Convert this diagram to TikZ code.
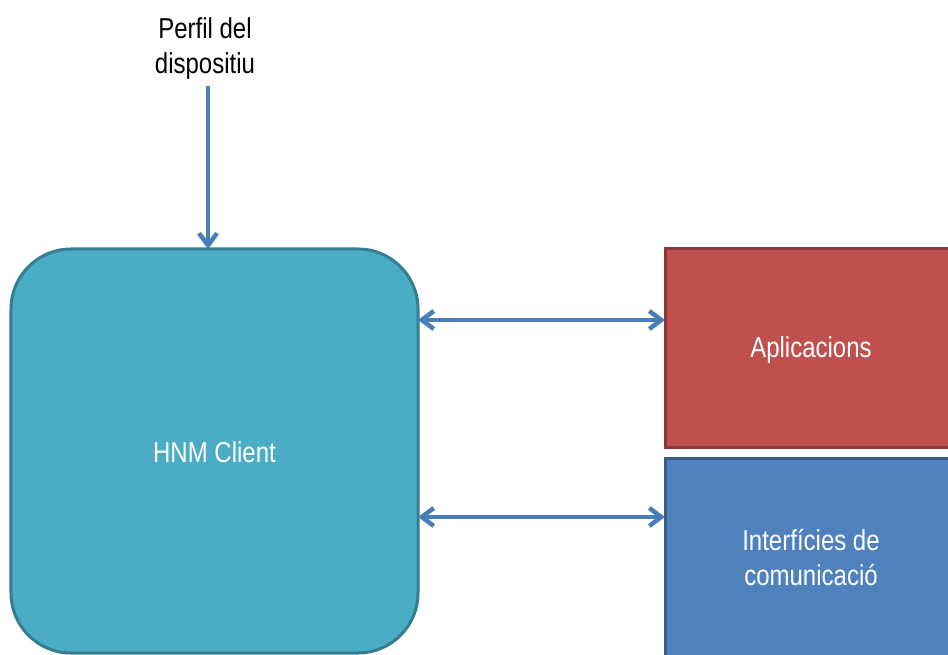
\documentclass[tikz,border=0pt]{standalone}
\usepackage{fontspec}
\setmainfont{Liberation Sans}
\usetikzlibrary{arrows.meta}
\definecolor{tealfill}{HTML}{4BACC6}
\definecolor{tealline}{HTML}{357D91}
\definecolor{redfill}{HTML}{C0504D}
\definecolor{redline}{HTML}{8C3836}
\definecolor{bluefill}{HTML}{4F81BD}
\definecolor{blueline}{HTML}{385D8A}
\definecolor{arrowblue}{HTML}{4A7EBB}
\newcommand{\tallword}[1]{\scalebox{1}[1.2]{\begin{tabular}{@{}c@{}}#1\end{tabular}}}
\tikzset{
  labelfont/.style={font=\fontsize{24bp}{29bp}\selectfont},
  block/.style={rectangle, line width=3bp, outer sep=0pt, inner sep=0pt},
  caption/.style={labelfont, inner sep=0pt, text=white},
  link/.style={draw=arrowblue, line width=4.5bp,
    -{Straight Barb[length=12bp,width=18bp]}},
  biglink/.style={link, {Straight Barb[length=12bp,width=18bp]}-{Straight Barb[length=12bp,width=18bp]}}
}
\begin{document}
\begin{tikzpicture}[x=1bp,y=-1bp]
  \useasboundingbox (0,0) rectangle (948,655);
  \fill[white] (0,0) rectangle (948,655);

  % main client block
  \node[block, draw=tealline, fill=tealfill, rounded corners=60bp,
        minimum width=407bp, minimum height=404bp] (hnm) at (214.5,451) {};
  \node[caption] (hnmtext) at ([yshift=-5bp]hnm.center) {\tallword{HNM Client}};

  % blocks on the right, running off the page edge
  \node[block, draw=redline, fill=redfill,
        minimum width=292bp, minimum height=198bp] (app) at (811,348) {};
  \node[caption] (apptext) at ([yshift=-3bp]app.center) {\tallword{Aplicacions}};
  \node[block, draw=blueline, fill=bluefill,
        minimum width=292bp, minimum height=202bp] (comm) at (811,559) {};
  \node[caption] (commtext) at ([yshift=-2bp]comm.center)
        {\tallword{Interfícies de\\comunicació}};

  % device profile input
  \node[labelfont, text=black, inner sep=0pt]
        (prof) at (205,49) {\tallword{Perfil del\\dispositiu}};
  \coordinate (profend) at (208,86);
  \draw[link] (profend) -- (hnm.north -| profend);

  % links between the client and the right-hand blocks
  \coordinate (row1) at (0,320);
  \coordinate (row2) at (0,517);
  \draw[biglink] (hnm.east |- row1) -- (app.west |- row1);
  \draw[biglink] (hnm.east |- row2) -- (comm.west |- row2);
\end{tikzpicture}
\end{document}
